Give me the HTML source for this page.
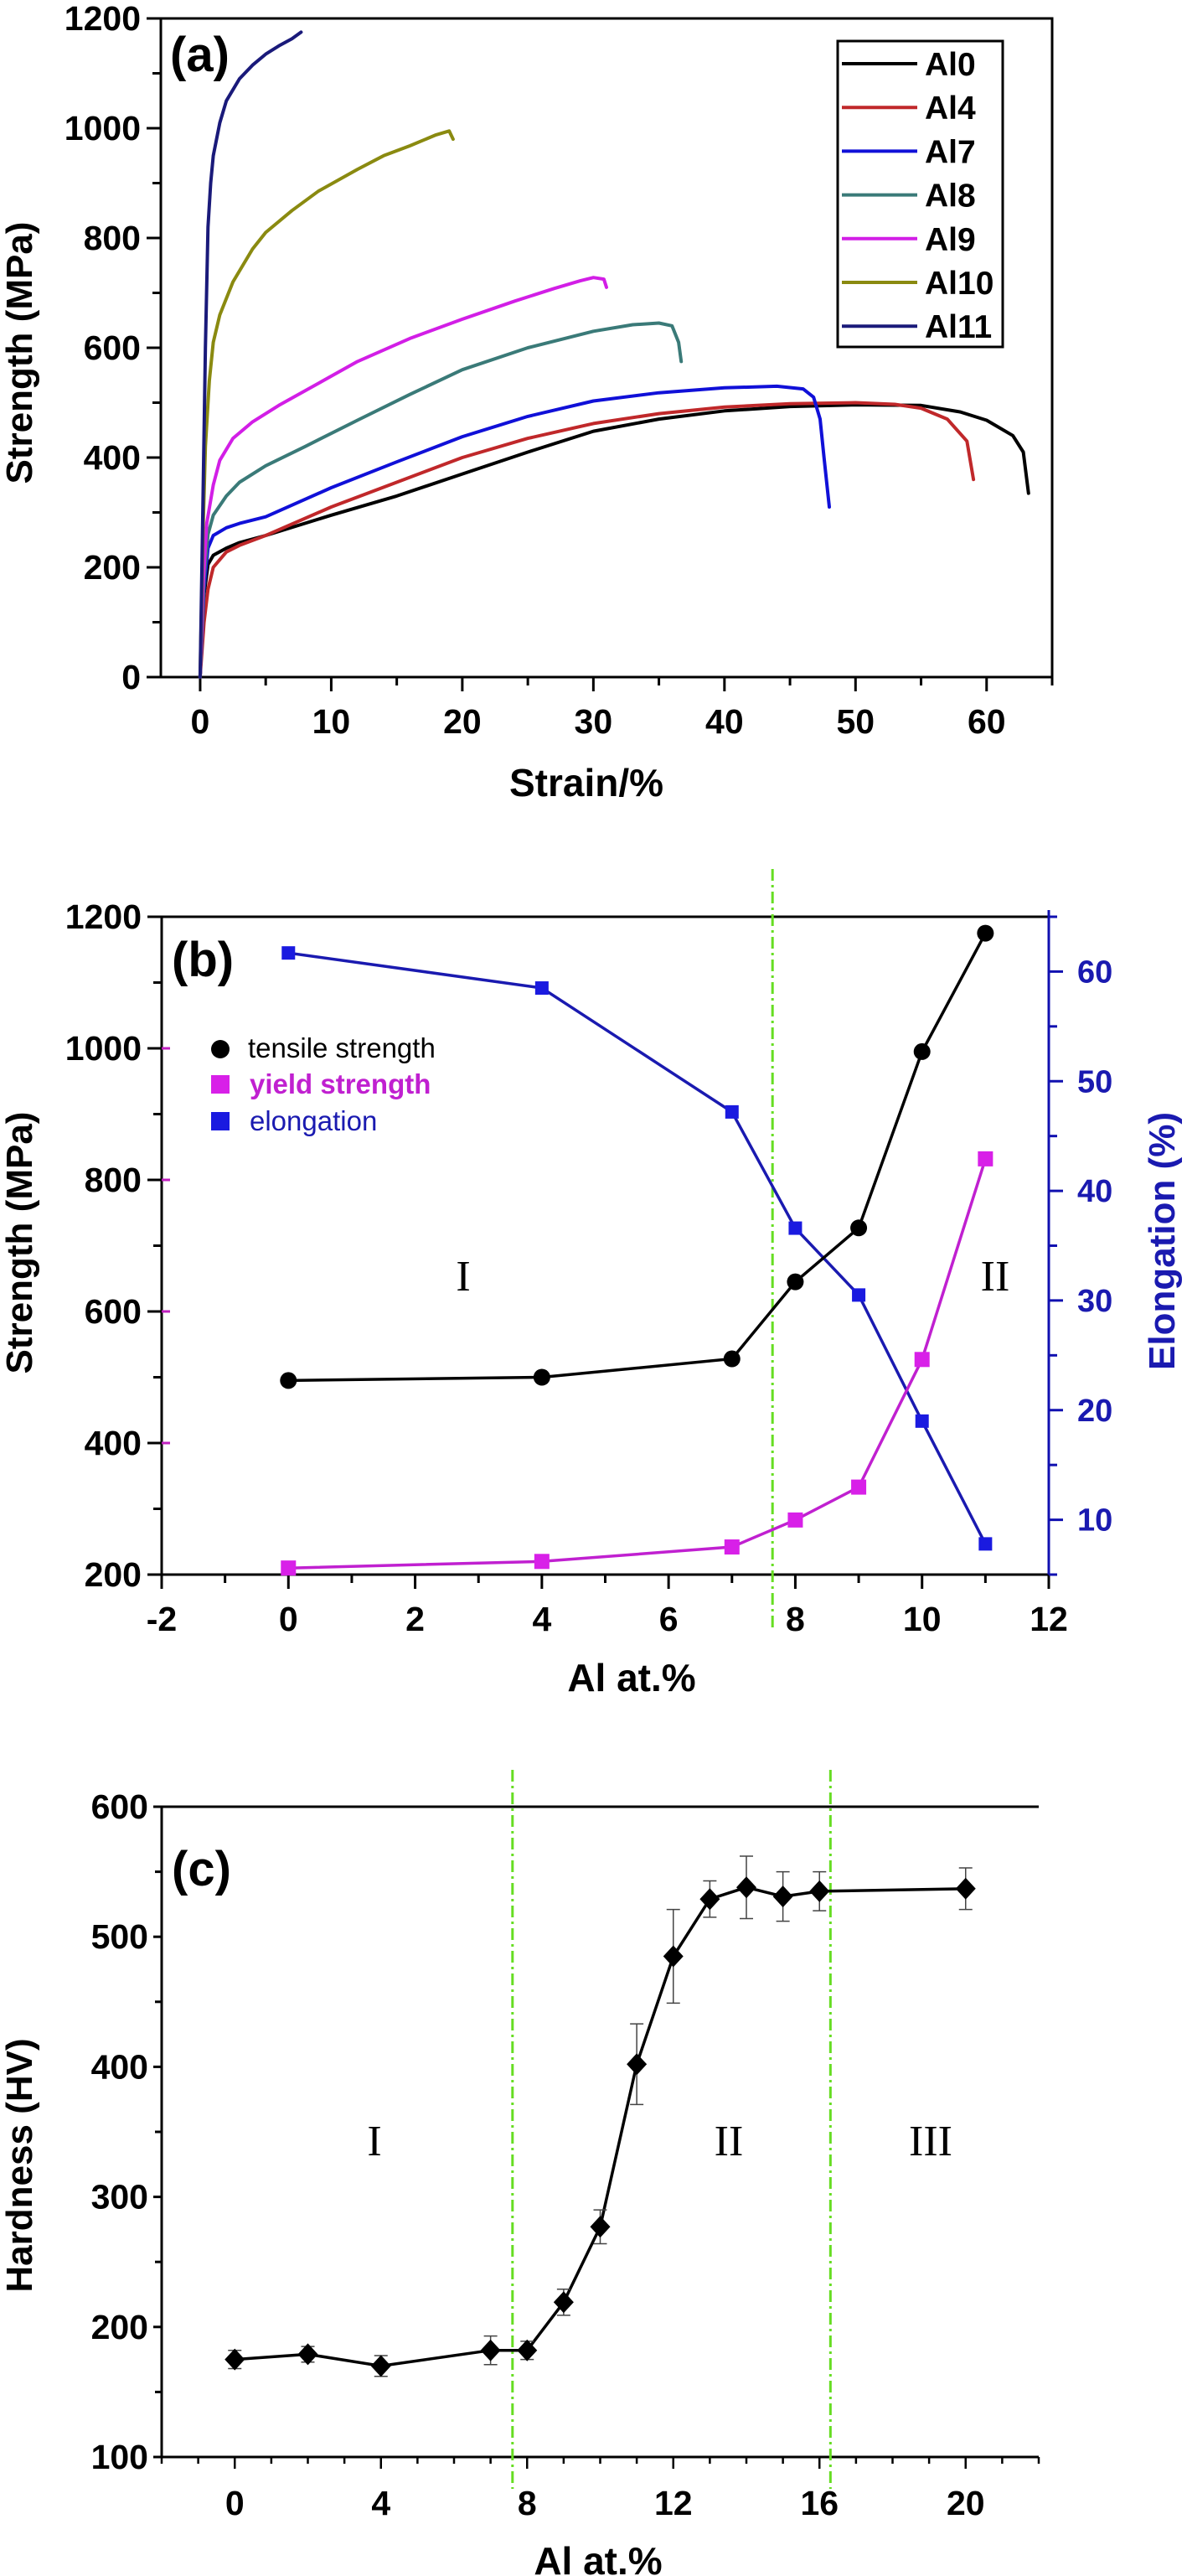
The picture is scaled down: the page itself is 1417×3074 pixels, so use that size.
<!DOCTYPE html>
<html><head><meta charset="utf-8"><style>
html,body{margin:0;padding:0;background:#fff}
svg{display:block}
text{font-family:"Liberation Sans",Arial,sans-serif}
text.roman{font-family:"Liberation Serif","Times New Roman",serif}
</style></head><body>
<svg id="fig" width="1417" height="3074" viewBox="0 0 1417 3074" xmlns="http://www.w3.org/2000/svg"></svg>
<script>
// ---------- Panel (a) data ----------
const a_series = ["Al0","Al4","Al7","Al8","Al9","Al10","Al11"];
const a_colors = ["#000000","#c0282a","#1010d8","#3a7a78","#d21ee6","#8a8a10","#1a1a7a"];
const al0_x=[0,0.3,0.6,1,2,3,5,10,15,20,25,30,35,40,45,50,55,58,60,62,62.8,63.2];
const al0_y=[0,150,205,222,235,245,258,295,330,370,410,448,470,485,493,496,495,483,468,440,410,335];
const al4_x=[0,0.3,0.6,1,2,3,5,10,15,20,25,30,35,40,45,50,53,55,57,58.5,59];
const al4_y=[0,100,160,200,228,240,258,310,355,400,435,462,480,492,498,500,497,490,470,430,360];
const al7_x=[0,0.3,0.6,1,2,3,5,10,15,20,25,30,35,40,44,46,46.8,47.3,47.6,48];
const al7_y=[0,160,235,258,272,280,292,345,392,438,475,503,518,527,530,525,510,470,400,310];
const al8_x=[0,0.3,0.6,1,2,3,5,8,12,16,20,25,30,33,35,36,36.5,36.7];
const al8_y=[0,180,260,295,330,355,385,420,468,515,560,600,630,642,645,640,610,575];
const al9_x=[0,0.2,0.5,1,1.5,2.5,4,6,9,12,16,20,24,27,29,30,30.8,31];
const al9_y=[0,160,280,350,395,435,465,495,535,575,617,652,685,708,722,728,725,710];
const al10_x=[0,0.2,0.4,0.7,1,1.5,2.5,4,5,7,9,12,14,16,18,19,19.3];
const al10_y=[0,250,420,540,610,660,720,780,810,850,885,925,950,968,988,995,980];
const al11_x=[0,0.2,0.4,0.6,0.8,1,1.5,2,3,4,5,6,7,7.7];
const al11_y=[0,300,600,820,900,950,1010,1050,1090,1115,1135,1150,1163,1175];
const a_xticks=[0,10,20,30,40,50,60];
const a_yticks=[0,200,400,600,800,1000,1200];

// ---------- Panel (b) data ----------
const b_x=[0,4,7,8,9,10,11];
const b_tensile=[495,500,528,645,727,995,1175];
const b_yield=[210,220,242,283,333,527,832];
const b_elong=[61.7,58.5,47.2,36.6,30.5,19.0,7.8];
const b_xticks=[-2,0,2,4,6,8,10,12];
const b_yticks=[200,400,600,800,1000,1200];
const b_rticks=[10,20,30,40,50,60];

// ---------- Panel (c) data ----------
const c_x=[0,2,4,7,8,9,10,11,12,13,14,15,16,20];
const c_h=[175,179,170,182,182,219,277,402,485,529,538,531,535,537];
const c_err=[7,6,8,11,7,10,13,31,36,14,24,19,15,16];
const c_xticks=[0,4,8,12,16,20];
const c_yticks=[100,200,300,400,500,600];

const svg=document.getElementById('fig');
const NS="http://www.w3.org/2000/svg";
function el(tag,attrs,parent){const e=document.createElementNS(NS,tag);for(const k in attrs)e.setAttribute(k,attrs[k]);(parent||svg).appendChild(e);return e;}
function txt(s,attrs,parent){const e=el('text',attrs,parent);e.textContent=s;return e;}

// ===== Panel A =====
const A={x0:-3,x1:65,px0:192,px1:1256,y0:0,y1:1200,py0:808,py1:22};
const ax=v=>A.px0+(v-A.x0)/(A.x1-A.x0)*(A.px1-A.px0);
const ay=v=>A.py0-(v-A.y0)/(A.y1-A.y0)*(A.py0-A.py1);
const gA=el('g',{});


const frameA=el('path',{d:`M${A.px0},${A.py1}H${A.px1}V${A.py0}H${A.px0}Z`,fill:'none',stroke:'#000','stroke-width':3},gA);

for(let v=0;v<=1200;v+=100){const y=ay(v);const major=v%200===0;el('line',{x1:A.px0-(major?17:10),x2:A.px0,y1:y,y2:y,stroke:'#000','stroke-width':3},gA);}
for(let v=0;v<=65;v+=5){const x=ax(v);const major=v%10===0;el('line',{x1:x,x2:x,y1:A.py0,y2:A.py0+(major?17:10),stroke:'#000','stroke-width':3},gA);}
a_yticks.forEach(v=>{const t=txt(String(v),{x:A.px0-24,y:ay(v)+14,'text-anchor':'end','font-size':41,'font-weight':'bold'},gA);});
a_xticks.forEach(v=>{const t=txt(String(v),{x:ax(v),y:875,'text-anchor':'middle','font-size':41,'font-weight':'bold'},gA);});
let t=txt('Strain/%',{x:700,y:950,'text-anchor':'middle','font-size':46,'font-weight':'bold'},gA);

t=txt('Strength (MPa)',{x:0,y:0,transform:'translate(38,421) rotate(-90)','text-anchor':'middle','font-size':44,'font-weight':'bold'},gA);

t=txt('(a)',{x:203,y:85,'font-size':58,'font-weight':'bold'},gA);

const aX=[al0_x,al4_x,al7_x,al8_x,al9_x,al10_x,al11_x];
const aY=[al0_y,al4_y,al7_y,al8_y,al9_y,al10_y,al11_y];
aX.forEach((xs,i)=>{
  const d=xs.map((x,j)=>(j?'L':'M')+ax(x).toFixed(1)+','+ay(aY[i][j]).toFixed(1)).join('');
  const p=el('path',{d:d,fill:'none',stroke:a_colors[i],'stroke-width':4,'stroke-linejoin':'round','stroke-linecap':'round'},gA);
  
  
});
const leg=el('g',{},gA);

el('rect',{x:1000,y:49,width:197,height:365,fill:'#fff',stroke:'#000','stroke-width':3},leg);
a_series.forEach((s,i)=>{
  const y=76+i*52.2;
  const ln=el('line',{x1:1005,x2:1095,y1:y,y2:y,stroke:a_colors[i],'stroke-width':4},leg);
  
  const lt=txt(s,{x:1104,y:y+14,'font-size':39,'font-weight':'bold'},leg);
  
});

// ===== Panel B =====
const B={x0:-2,x1:12,px0:193,px1:1252,y0:200,y1:1200,py0:1879,py1:1094,r0:5,r1:65};
const bx=v=>B.px0+(v-B.x0)/(B.x1-B.x0)*(B.px1-B.px0);
const by=v=>B.py0-(v-B.y0)/(B.y1-B.y0)*(B.py0-B.py1);
const br=v=>B.py0-(v-B.r0)/(B.r1-B.r0)*(B.py0-B.py1);
const gB=el('g',{});


el('line',{x1:B.px0,x2:B.px1,y1:B.py1,y2:B.py1,stroke:'#000','stroke-width':3},gB);
el('line',{x1:B.px0,x2:B.px1,y1:B.py0,y2:B.py0,stroke:'#000','stroke-width':3},gB);
el('line',{x1:B.px0,x2:B.px0,y1:B.py1,y2:B.py0,stroke:'#000','stroke-width':3},gB);
el('line',{x1:B.px1,x2:B.px1,y1:B.py1-8,y2:B.py0,stroke:'#1010b0','stroke-width':3},gB);
for(let v=200;v<=1200;v+=100){const y=by(v);const major=v%200===0;el('line',{x1:B.px0-(major?17:10),x2:B.px0,y1:y,y2:y,stroke:'#000','stroke-width':3},gB);if(major&&v>200&&v<1200)el('line',{x1:B.px0,x2:B.px0+10,y1:y,y2:y,stroke:'#c020c0','stroke-width':3},gB);}
for(let v=-2;v<=12;v+=1){const x=bx(v);const major=v%2===0;el('line',{x1:x,x2:x,y1:B.py0,y2:B.py0+(major?17:10),stroke:'#000','stroke-width':3},gB);}
for(let v=5;v<=65;v+=5){const y=br(v);const major=v%10===0;el('line',{x1:B.px1,x2:B.px1+(major?17:10),y1:y,y2:y,stroke:'#1010b0','stroke-width':3},gB);}
b_yticks.forEach(v=>{const t=txt(String(v),{x:B.px0-24,y:by(v)+14,'text-anchor':'end','font-size':41,'font-weight':'bold'},gB);});
b_xticks.forEach(v=>{const t=txt(String(v),{x:bx(v),y:1946,'text-anchor':'middle','font-size':41,'font-weight':'bold'},gB);});
b_rticks.forEach(v=>{const t=txt(String(v),{x:1286,y:br(v)+13,'font-size':38,'font-weight':'bold',fill:'#1a1ab0'},gB);});
t=txt('Al at.%',{x:754,y:2018,'text-anchor':'middle','font-size':46,'font-weight':'bold'},gB);

t=txt('Strength (MPa)',{x:0,y:0,transform:'translate(38,1483) rotate(-90)','text-anchor':'middle','font-size':44,'font-weight':'bold'},gB);

t=txt('Elongation (%)',{x:0,y:0,transform:'translate(1402,1481) rotate(-90)','text-anchor':'middle','font-size':44,'font-weight':'bold',fill:'#1a1ab0'},gB);

t=txt('(b)',{x:205,y:1165,'font-size':58,'font-weight':'bold'},gB);

const gl=el('line',{x1:bx(7.64),x2:bx(7.64),y1:1037,y2:1945,stroke:'#66dd22','stroke-width':3,'stroke-dasharray':'14,5,3,5'},gB);

t=txt('I',{x:553,y:1540,'text-anchor':'middle','font-size':52,'class':'roman'},gB);

t=txt('II',{x:1188,y:1540,'text-anchor':'middle','font-size':52,'class':'roman'},gB);

function polyline(xs,ys,fx,fy,color,name,parent){const d=xs.map((x,j)=>(j?'L':'M')+fx(x).toFixed(1)+','+fy(ys[j]).toFixed(1)).join('');const p=el('path',{d:d,fill:'none',stroke:color,'stroke-width':3.5},parent);}
polyline(b_x,b_elong,bx,br,'#1a1ab0','elongation-line',gB);
polyline(b_x,b_yield,bx,by,'#c020d0','yield-strength-line',gB);
polyline(b_x,b_tensile,bx,by,'#000','tensile-strength-line',gB);
b_x.forEach((x,i)=>{
  const m1=el('rect',{x:bx(x)-8,y:br(b_elong[i])-8,width:16,height:16,fill:'#1a1ae0'},gB);
  
  const m2=el('rect',{x:bx(x)-9,y:by(b_yield[i])-9,width:18,height:18,fill:'#d820e8'},gB);
  
  const m3=el('circle',{cx:bx(x),cy:by(b_tensile[i]),r:10,fill:'#000'},gB);
  
});
const lgB=el('g',{},gB);

el('circle',{cx:263,cy:1252,r:11,fill:'#000'},lgB);
el('rect',{x:252,y:1283,width:22,height:22,fill:'#d820e8'},lgB);
el('rect',{x:252,y:1327,width:22,height:22,fill:'#1a1ae0'},lgB);
t=txt('tensile strength',{x:296,y:1262,'font-size':33},lgB);
t=txt('yield strength',{x:298,y:1305,'font-size':33,fill:'#c020d0','font-weight':'bold'},lgB);
t=txt('elongation',{x:298,y:1349,'font-size':33,fill:'#1a1ab0'},lgB);

// ===== Panel C =====
const C={x0:-2,x1:22,px0:193,px1:1240,y0:100,y1:600,py0:2932,py1:2156};
const cx=v=>C.px0+(v-C.x0)/(C.x1-C.x0)*(C.px1-C.px0);
const cy=v=>C.py0-(v-C.y0)/(C.y1-C.y0)*(C.py0-C.py1);
const gC=el('g',{});


el('line',{x1:C.px0-8,x2:C.px1,y1:C.py1,y2:C.py1,stroke:'#000','stroke-width':3},gC);
el('line',{x1:C.px0-8,x2:C.px1,y1:C.py0,y2:C.py0,stroke:'#000','stroke-width':3},gC);
el('line',{x1:C.px0,x2:C.px0,y1:C.py1,y2:C.py0,stroke:'#000','stroke-width':3},gC);
for(let v=100;v<=600;v+=50){const y=cy(v);const major=v%100===0;el('line',{x1:C.px0-(major?10:8),x2:C.px0,y1:y,y2:y,stroke:'#000','stroke-width':3},gC);}
for(let v=-2;v<=22;v+=1){const x=cx(v);const major=v%4===0;el('line',{x1:x,x2:x,y1:C.py0,y2:C.py0+(major?14:8),stroke:'#000','stroke-width':2.5},gC);}
c_yticks.forEach(v=>{const t=txt(String(v),{x:C.px0-16,y:cy(v)+14,'text-anchor':'end','font-size':41,'font-weight':'bold'},gC);});
c_xticks.forEach(v=>{const t=txt(String(v),{x:cx(v),y:3001,'text-anchor':'middle','font-size':41,'font-weight':'bold'},gC);});
t=txt('Al at.%',{x:714,y:3072,'text-anchor':'middle','font-size':46,'font-weight':'bold'},gC);

t=txt('Hardness (HV)',{x:0,y:0,transform:'translate(38,2584) rotate(-90)','text-anchor':'middle','font-size':44,'font-weight':'bold'},gC);

t=txt('(c)',{x:205,y:2250,'font-size':58,'font-weight':'bold'},gC);

[7.6,16.3].forEach(v=>{const g=el('line',{x1:cx(v),x2:cx(v),y1:2112,y2:2970,stroke:'#66dd22','stroke-width':3,'stroke-dasharray':'14,5,3,5'},gC);});
[['I',447],['II',870],['III',1111]].forEach(([s,x])=>{const r=txt(s,{x:x,y:2572,'text-anchor':'middle','font-size':52,'class':'roman'},gC);});
polyline(c_x,c_h,cx,cy,'#000','hardness-line',gC);
c_x.forEach((x,i)=>{
  const X=cx(x),Y=cy(c_h[i]),top=cy(c_h[i]+c_err[i]),bot=cy(c_h[i]-c_err[i]);
  const eb=el('path',{d:`M${X},${top}V${bot}M${X-8},${top}H${X+8}M${X-8},${bot}H${X+8}`,stroke:'#444','stroke-width':1.5,fill:'none'},gC);
  
  const dm=el('path',{d:`M${X},${Y-13}L${X+12},${Y}L${X},${Y+13}L${X-12},${Y}Z`,fill:'#000'},gC);
  
});
</script>
</body></html>
